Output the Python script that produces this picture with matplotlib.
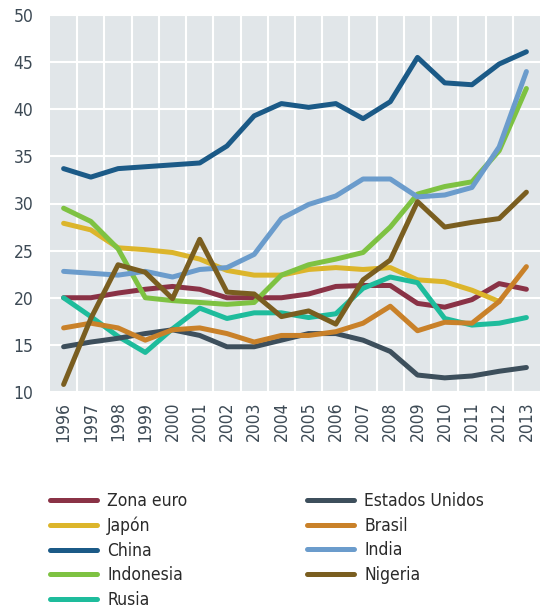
import matplotlib
matplotlib.use("Agg")
import matplotlib.pyplot as plt

years = list(range(1996, 2014))
zona_euro = [20.0, 20.0, 20.5, 20.9, 21.2, 20.9, 20.0, 20.0, 20.0, 20.4, 21.2, 21.3, 21.3, 19.4, 19.0, 19.8, 21.5, 20.9]
japon = [27.9, 27.2, 25.3, 25.1, 24.8, 24.1, 22.9, 22.4, 22.4, 23.0, 23.2, 23.0, 23.2, 21.9, 21.7, 20.8, 19.6]
china = [33.7, 32.8, 33.7, 33.9, 34.1, 34.3, 36.1, 39.3, 40.6, 40.2, 40.6, 39.0, 40.8, 45.5, 42.8, 42.6, 44.8, 46.1]
indonesia = [29.5, 28.1, 25.2, 20.0, 19.7, 19.5, 19.3, 19.5, 22.4, 23.5, 24.1, 24.8, 27.5, 31.0, 31.8, 32.3, 35.6, 42.2]
rusia = [20.0, 18.0, 15.9, 14.2, 16.7, 18.9, 17.8, 18.4, 18.4, 17.9, 18.3, 21.0, 22.2, 21.6, 17.8, 17.1, 17.3, 17.9]
estados_unidos = [14.8, 15.3, 15.7, 16.2, 16.6, 16.0, 14.8, 14.8, 15.5, 16.2, 16.2, 15.5, 14.3, 11.8, 11.5, 11.7, 12.2, 12.6]
brasil = [16.8, 17.3, 16.8, 15.5, 16.6, 16.8, 16.2, 15.3, 16.0, 16.0, 16.4, 17.3, 19.1, 16.5, 17.4, 17.3, 19.6, 23.3]
india = [22.8, 22.6, 22.4, 22.8, 22.2, 23.0, 23.2, 24.6, 28.4, 29.9, 30.8, 32.6, 32.6, 30.7, 30.9, 31.7, 36.0, 44.0]
nigeria = [10.8, 17.8, 23.5, 22.7, 19.9, 26.2, 20.6, 20.4, 18.0, 18.6, 17.2, 21.9, 24.0, 30.2, 27.5, 28.0, 28.4, 31.2]

names = ["Zona euro", "Japón", "China", "Indonesia", "Rusia",
         "Estados Unidos", "Brasil", "India", "Nigeria"]
series = [zona_euro, japon, china, indonesia, rusia, estados_unidos, brasil, india, nigeria]
colors = ["#8a3246", "#dcb52b", "#1b5a87", "#7ec242", "#1ebc9c",
          "#3d4f5c", "#c98129", "#6b9ccc", "#7a5e20"]
yticks = [10, 15, 20, 25, 30, 35, 40, 45, 50]

plt.rcParams['font.family'] = ["DejaVu Sans"]
plt.rcParams['font.stretch'] = "condensed"

fig = plt.figure(figsize=(5.53, 6.10), dpi=100)
ax = fig.add_axes([50/553, 1 - 392/610, 490/553, 377/610])
ax.set_facecolor("#e1e6e9")
for s in ax.spines.values():
    s.set_visible(False)

for name, vals, c in zip(names, series, colors):
    ax.plot(years[:len(vals)], vals, color=c, lw=3.6, label=name,
            solid_capstyle="round", solid_joinstyle="round")

ax.set_xlim(1995.5, 2013.5)
ax.set_ylim(10, 50)
ax.set_yticks(yticks)
ax.set_xticks(years)
ax.set_xticklabels([str(y) for y in years], rotation=90)
ax.set_xticks([y + 0.5 for y in years[:-1]], minor=True)
ax.tick_params(axis="both", which="both", length=0, labelsize=12.5, colors="#3d4a55")
ax.tick_params(axis="x", pad=7)
ax.tick_params(axis="y", pad=12)
ax.grid(True, which="minor", axis="x", color="white", lw=1.5)
ax.grid(True, which="major", axis="y", color="white", lw=1.5)
ax.grid(False, which="major", axis="x")
ax.set_axisbelow(True)

handles, labels = ax.get_legend_handles_labels()
common = dict(loc="upper left", frameon=False, fontsize=12.5, handlelength=2.7,
              labelspacing=0.38, handletextpad=0.6, borderpad=0, borderaxespad=0)
leg1 = fig.legend(handles[:5], labels[:5], bbox_to_anchor=(50/553, 1 - 492/610), **common)
leg2 = fig.legend(handles[5:], labels[5:], bbox_to_anchor=(307/553, 1 - 492/610), **common)
for leg in (leg1, leg2):
    for t in leg.get_texts():
        t.set_color("#2a2a2a")

fig.savefig("out.png", dpi=100)
